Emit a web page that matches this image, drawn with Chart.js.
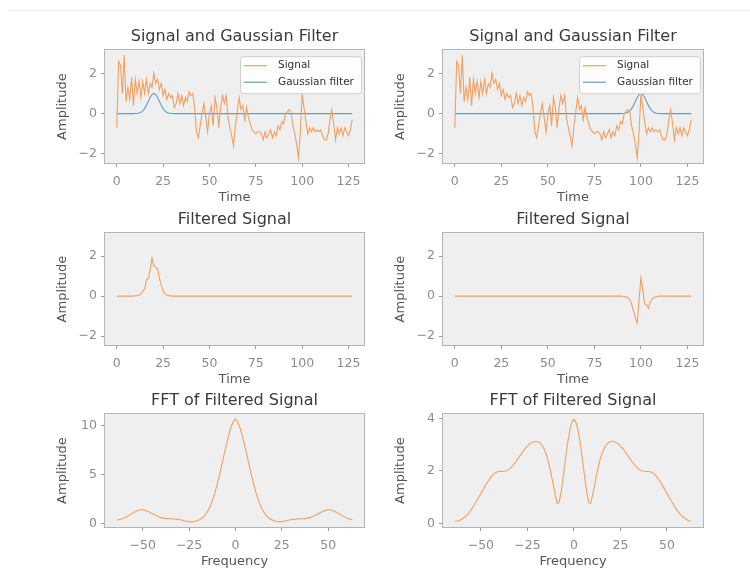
<!DOCTYPE html>
<html>
<head>
<meta charset="utf-8">
<script src="https://cdn.jsdelivr.net/npm/chart.js@4.4.1/dist/chart.umd.min.js"></script>
<style>
  body { margin: 0; background: #fff; width: 750px; height: 569px; overflow: hidden; position: relative; }
  canvas { position: absolute; }
  #topline { position: absolute; left: 8px; right: 0; top: 10px; height: 1px; background: #efefef; }
</style>
</head>
<body>
<div id="topline"></div>
<canvas id="tl"></canvas>
<canvas id="tr"></canvas>
<canvas id="ml"></canvas>
<canvas id="mr"></canvas>
<canvas id="bl"></canvas>
<canvas id="br"></canvas>
<script>
// data
const timeStart = 0;
const freqStart = -64;

const signal = [
  -0.7, 2.6, 2.4, 1.0, 2.9, 0.6, 1.3, 0.7, 1.8, 0.4,
  1.7, 1.0, 1.6, 0.8, 1.6, 1.0, 1.7, 1.0, 1.5, 1.3,
  2.0, 1.5, 1.7, 1.2, 1.5, 0.9, 1.2, 0.7, 1.0, 0.8,
  0.9, 0.3, 0.5, 1.0, 0.5, 0.9, 0.4, 0.8, 0.6, 1.1,
  0.9, 1.0, 0.3, -0.9, -1.2, -0.6, 0.0, 0.5, -0.2, -0.9,
  0.0, 0.4, -0.6, 0.8, 0.3, -0.7, 0.3, 0.9, 0.5, 0.9,
  -0.2, -0.7, -1.1, -1.6, -0.6, 0.1, 0.8, 0.2, 0.4, -0.3,
  0.3, -0.2, -0.5, -0.8, -0.9, -1.0, -0.9, -0.9, -1.0, -1.3,
  -0.9, -1.2, -1.0, -0.8, -1.2, -0.9, -1.1, -0.6, -0.8, -0.4,
  -0.5, 0.0, 0.1, 0.2, 0.1, -0.6, -1.0, -1.5, -2.2, -0.9,
  1.0, 0.3, -0.4, -1.0, -0.7, -0.9, -0.7, -0.9, -0.8, -0.9,
  -0.8, -1.1, -1.3, -1.3, -1.0, -0.3, 0.2, -0.5, -1.3, -0.7,
  -1.0, -0.7, -1.1, -0.7, -0.9, -1.1, -0.8, -0.3
];

const gaussLeft = [
  0, 0, 0, 0, 0, 0, 0, 0, 0, 0, 0.004, 0.011, 0.029, 0.066, 0.135, 0.249,
  0.411, 0.607, 0.801, 0.946, 1, 0.946, 0.801, 0.607, 0.411, 0.249, 0.135, 0.066, 0.029, 0.011, 0.004, 0,
  0, 0, 0, 0, 0, 0, 0, 0, 0, 0, 0, 0, 0, 0, 0, 0,
  0, 0, 0, 0, 0, 0, 0, 0, 0, 0, 0, 0, 0, 0, 0, 0,
  0, 0, 0, 0, 0, 0, 0, 0, 0, 0, 0, 0, 0, 0, 0, 0,
  0, 0, 0, 0, 0, 0, 0, 0, 0, 0, 0, 0, 0, 0, 0, 0,
  0, 0, 0, 0, 0, 0, 0, 0, 0, 0, 0, 0, 0, 0, 0, 0,
  0, 0, 0, 0, 0, 0, 0, 0, 0, 0, 0, 0, 0, 0, 0, 0
];

const gaussRight = [
  0, 0, 0, 0, 0, 0, 0, 0, 0, 0, 0, 0, 0, 0, 0, 0,
  0, 0, 0, 0, 0, 0, 0, 0, 0, 0, 0, 0, 0, 0, 0, 0,
  0, 0, 0, 0, 0, 0, 0, 0, 0, 0, 0, 0, 0, 0, 0, 0,
  0, 0, 0, 0, 0, 0, 0, 0, 0, 0, 0, 0, 0, 0, 0, 0,
  0, 0, 0, 0, 0, 0, 0, 0, 0, 0, 0, 0, 0, 0, 0, 0,
  0, 0, 0, 0, 0, 0, 0, 0, 0, 0, 0.004, 0.011, 0.029, 0.066, 0.135, 0.249,
  0.411, 0.607, 0.801, 0.946, 1, 0.946, 0.801, 0.607, 0.411, 0.249, 0.135, 0.066, 0.029, 0.011, 0.004, 0,
  0, 0, 0, 0, 0, 0, 0, 0, 0, 0, 0, 0, 0, 0, 0, 0
];

const filteredLeft = [
  0, 0, 0, 0, 0, 0, 0, 0, 0, 0, 0.01, 0.02, 0.05, 0.1, 0.25, 0.35,
  0.8, 0.9, 1.3, 1.9, 1.5, 1.45, 1.35, 0.9, 0.55, 0.25, 0.12, 0.05, 0.02, 0.01, 0, 0,
  0, 0, 0, 0, 0, 0, 0, 0, 0, 0, 0, 0, 0, 0, 0, 0,
  0, 0, 0, 0, 0, 0, 0, 0, 0, 0, 0, 0, 0, 0, 0, 0,
  0, 0, 0, 0, 0, 0, 0, 0, 0, 0, 0, 0, 0, 0, 0, 0,
  0, 0, 0, 0, 0, 0, 0, 0, 0, 0, 0, 0, 0, 0, 0, 0,
  0, 0, 0, 0, 0, 0, 0, 0, 0, 0, 0, 0, 0, 0, 0, 0,
  0, 0, 0, 0, 0, 0, 0, 0, 0, 0, 0, 0, 0, 0, 0, 0
];

const filteredRight = [
  0, 0, 0, 0, 0, 0, 0, 0, 0, 0, 0, 0, 0, 0, 0, 0,
  0, 0, 0, 0, 0, 0, 0, 0, 0, 0, 0, 0, 0, 0, 0, 0,
  0, 0, 0, 0, 0, 0, 0, 0, 0, 0, 0, 0, 0, 0, 0, 0,
  0, 0, 0, 0, 0, 0, 0, 0, 0, 0, 0, 0, 0, 0, 0, 0,
  0, 0, 0, 0, 0, 0, 0, 0, 0, 0, 0, 0, 0, 0, 0, 0,
  0, 0, 0, 0, 0, 0, 0, 0, 0, 0, -0.01, -0.02, -0.04, -0.08, -0.18, -0.4,
  -0.75, -1.1, -1.35, -0.2, 0.92, 0.3, -0.38, -0.45, -0.6, -0.3, -0.15, -0.07, -0.03, -0.01, 0, 0,
  0, 0, 0, 0, 0, 0, 0, 0, 0, 0, 0, 0, 0, 0, 0, 0
];

const fftLeft = [
  0.35, 0.38, 0.42, 0.48, 0.55, 0.64, 0.75, 0.87, 0.99, 1.1, 1.2, 1.29, 1.35, 1.39, 1.39, 1.36,
  1.3, 1.22, 1.12, 1.02, 0.92, 0.82, 0.73, 0.65, 0.59, 0.54, 0.51, 0.49, 0.48, 0.47, 0.46, 0.45,
  0.43, 0.41, 0.38, 0.34, 0.3, 0.25, 0.21, 0.18, 0.16, 0.17, 0.2, 0.25, 0.32, 0.42, 0.55, 0.72,
  0.95, 1.24, 1.6, 2.05, 2.6, 3.2, 3.9, 4.65, 5.45, 6.3, 7.15, 7.95, 8.75, 9.45, 10.05, 10.45,
  10.7, 10.45, 10.05, 9.45, 8.75, 7.95, 7.15, 6.3, 5.45, 4.65, 3.9, 3.2, 2.6, 2.05, 1.6, 1.24,
  0.95, 0.72, 0.55, 0.42, 0.32, 0.25, 0.2, 0.17, 0.16, 0.18, 0.21, 0.25, 0.3, 0.34, 0.38, 0.41,
  0.43, 0.45, 0.46, 0.47, 0.48, 0.49, 0.51, 0.54, 0.59, 0.65, 0.73, 0.82, 0.92, 1.02, 1.12, 1.22,
  1.3, 1.36, 1.39, 1.39, 1.35, 1.29, 1.2, 1.1, 0.99, 0.87, 0.75, 0.64, 0.55, 0.48, 0.42, 0.38
];

const fftRight = [
  0.08, 0.09, 0.11, 0.14, 0.18, 0.23, 0.29, 0.36, 0.45, 0.55, 0.66, 0.78, 0.9, 1.02, 1.14, 1.27,
  1.4, 1.52, 1.63, 1.73, 1.82, 1.89, 1.94, 1.97, 1.98, 1.98, 1.99, 2.0, 2.02, 2.06, 2.12, 2.2,
  2.29, 2.38, 2.48, 2.58, 2.68, 2.78, 2.87, 2.95, 3.02, 3.07, 3.1, 3.12, 3.12, 3.1, 3.05, 2.96,
  2.83, 2.65, 2.42, 2.13, 1.8, 1.43, 1.07, 0.77, 0.8, 1.15, 1.65, 2.2, 2.75, 3.23, 3.62, 3.87,
  3.96, 3.87, 3.62, 3.23, 2.75, 2.2, 1.65, 1.15, 0.8, 0.77, 1.07, 1.43, 1.8, 2.13, 2.42, 2.65,
  2.83, 2.96, 3.05, 3.1, 3.12, 3.12, 3.1, 3.07, 3.02, 2.95, 2.87, 2.78, 2.68, 2.58, 2.48, 2.38,
  2.29, 2.2, 2.12, 2.06, 2.02, 2.0, 1.99, 1.98, 1.98, 1.97, 1.94, 1.89, 1.82, 1.73, 1.63, 1.52,
  1.4, 1.27, 1.14, 1.02, 0.9, 0.78, 0.66, 0.55, 0.45, 0.36, 0.29, 0.23, 0.18, 0.14, 0.11, 0.09
];

const timeTicks = [0, 25, 50, 75, 100, 125];
const freqTicks = [-50, -25, 0, 25, 50];
const ampTicks = [-2, 0, 2];
const fftLeftTicks = [0, 5, 10];
const fftRightTicks = [0, 2, 4];

const ORANGE = '#f0a062';
const BLUE = '#5f9fc6';
const FONT = "'DejaVu Sans', sans-serif";

Chart.defaults.font.family = FONT;

function toPoints(values, start) {
  return values.map((v, i) => ({ x: start + i, y: v }));
}

function minus(v) {
  return String(v).replace('-', '\u2212');
}

// axes background, frame and inset legend, like matplotlib
const axesFrame = {
  id: 'axesFrame',
  beforeDatasetsDraw(chart) {
    const a = chart.chartArea, ctx = chart.ctx;
    ctx.save();
    ctx.fillStyle = '#efefef';
    ctx.fillRect(a.left, a.top, a.right - a.left, a.bottom - a.top);
    ctx.restore();
  },
  afterDraw(chart, args, opts) {
    const a = chart.chartArea, ctx = chart.ctx;
    ctx.save();
    ctx.strokeStyle = '#b4b4b4';
    ctx.lineWidth = 1;
    ctx.strokeRect(Math.round(a.left) - 0.5, Math.round(a.top) - 0.5, Math.round(a.right - a.left) + 1, Math.round(a.bottom - a.top) + 1);

    if (opts.legend) {
      const w = 121, h = 37;
      const x = a.right - w - 3, y = a.top + 6;
      ctx.fillStyle = 'rgba(255,255,255,0.85)';
      ctx.strokeStyle = '#d0d0d0';
      ctx.beginPath();
      ctx.roundRect(x + 0.5, y + 0.5, w, h, 3);
      ctx.fill();
      ctx.stroke();
      ctx.font = '10.5px ' + FONT;
      ctx.textBaseline = 'middle';
      chart.data.datasets.forEach((ds, i) => {
        const cy = y + 9.5 + i * 16.5;
        ctx.strokeStyle = ds.borderColor;
        ctx.lineWidth = 1.2;
        ctx.beginPath();
        ctx.moveTo(x + 4, cy);
        ctx.lineTo(x + 27, cy);
        ctx.stroke();
        ctx.fillStyle = '#333';
        ctx.fillText(ds.label, x + 38, cy);
      });
    }
    ctx.restore();
  }
};

function makePanel(id, box, p) {
  const [L, T, W, H] = box;
  const yW = 50, xH = 42, titleH = 27, padR = 15;
  const cv = document.getElementById(id);
  cv.width = yW + W + padR;
  cv.height = titleH + H + xH;
  cv.style.left = (L - yW) + 'px';
  cv.style.top = (T - titleH) + 'px';

  new Chart(cv, {
    type: 'line',
    data: {
      datasets: p.series.map(s => ({
        label: s.label,
        data: toPoints(s.values, p.start),
        borderColor: s.color,
        borderWidth: 1.1,
        pointRadius: 0,
        tension: 0,
        fill: false
      }))
    },
    options: {
      responsive: false,
      animation: false,
      events: [],
      layout: { padding: { left: 0, right: padR, top: 0, bottom: 0 } },
      plugins: {
        legend: { display: false },
        tooltip: { enabled: false },
        title: {
          display: true,
          text: p.title,
          color: '#3a3a3a',
          fullSize: false,
          font: { size: 16, weight: 'normal' },
          padding: { top: 4, bottom: 4 }
        },
        axesFrame: { legend: !!p.legend }
      },
      scales: {
        x: {
          type: 'linear',
          min: p.xMin,
          max: p.xMax,
          afterBuildTicks: s => { s.ticks = p.xTicks.map(v => ({ value: v })); },
          afterFit: s => { s.height = xH; },
          grid: { drawOnChartArea: false, drawTicks: true, tickLength: 4, tickColor: '#9a9a9a' },
          border: { display: false },
          ticks: { color: '#8c8c8c', font: { size: 12.5 }, padding: 7, maxRotation: 0, autoSkip: false, callback: v => minus(v) },
          title: { display: true, text: p.xTitle, color: '#555', font: { size: 13 }, padding: { top: 0, bottom: 0 } }
        },
        y: {
          type: 'linear',
          min: p.yMin,
          max: p.yMax,
          afterBuildTicks: s => { s.ticks = p.yTicks.map(v => ({ value: v })); },
          afterFit: s => { s.width = yW; },
          grid: { drawOnChartArea: false, drawTicks: true, tickLength: 4, tickColor: '#9a9a9a' },
          border: { display: false },
          ticks: { color: '#8c8c8c', font: { size: 12.5 }, padding: 4, autoSkip: false, callback: v => minus(v) },
          title: { display: true, text: 'Amplitude', color: '#555', font: { size: 13 }, padding: { top: 0, bottom: 0 } }
        }
      }
    },
    plugins: [axesFrame]
  });
}

const timeAxis = { start: timeStart, xMin: -6.35, xMax: 133.35, xTicks: timeTicks, xTitle: 'Time' };
const freqAxis = { start: freqStart, xMin: -70.35, xMax: 69.35, xTicks: freqTicks, xTitle: 'Frequency' };

makePanel('tl', [105, 50, 259, 113], Object.assign({}, timeAxis, {
  title: 'Signal and Gaussian Filter', yMin: -2.45, yMax: 3.15, yTicks: ampTicks, legend: true,
  series: [
    { label: 'Signal', values: signal, color: ORANGE },
    { label: 'Gaussian filter', values: gaussLeft, color: BLUE }
  ]
}));
makePanel('tr', [443, 50, 260, 113], Object.assign({}, timeAxis, {
  title: 'Signal and Gaussian Filter', yMin: -2.45, yMax: 3.15, yTicks: ampTicks, legend: true,
  series: [
    { label: 'Signal', values: signal, color: ORANGE },
    { label: 'Gaussian filter', values: gaussRight, color: BLUE }
  ]
}));
makePanel('ml', [105, 233, 259, 112], Object.assign({}, timeAxis, {
  title: 'Filtered Signal', yMin: -2.45, yMax: 3.15, yTicks: ampTicks,
  series: [{ label: 'Filtered', values: filteredLeft, color: ORANGE }]
}));
makePanel('mr', [443, 233, 260, 112], Object.assign({}, timeAxis, {
  title: 'Filtered Signal', yMin: -2.45, yMax: 3.15, yTicks: ampTicks,
  series: [{ label: 'Filtered', values: filteredRight, color: ORANGE }]
}));
makePanel('bl', [105, 414, 259, 113], Object.assign({}, freqAxis, {
  title: 'FFT of Filtered Signal', yMin: -0.37, yMax: 11.17, yTicks: fftLeftTicks,
  series: [{ label: 'FFT', values: fftLeft, color: ORANGE }]
}));
makePanel('br', [443, 414, 260, 113], Object.assign({}, freqAxis, {
  title: 'FFT of Filtered Signal', yMin: -0.13, yMax: 4.16, yTicks: fftRightTicks,
  series: [{ label: 'FFT', values: fftRight, color: ORANGE }]
}));
</script>
</body>
</html>
